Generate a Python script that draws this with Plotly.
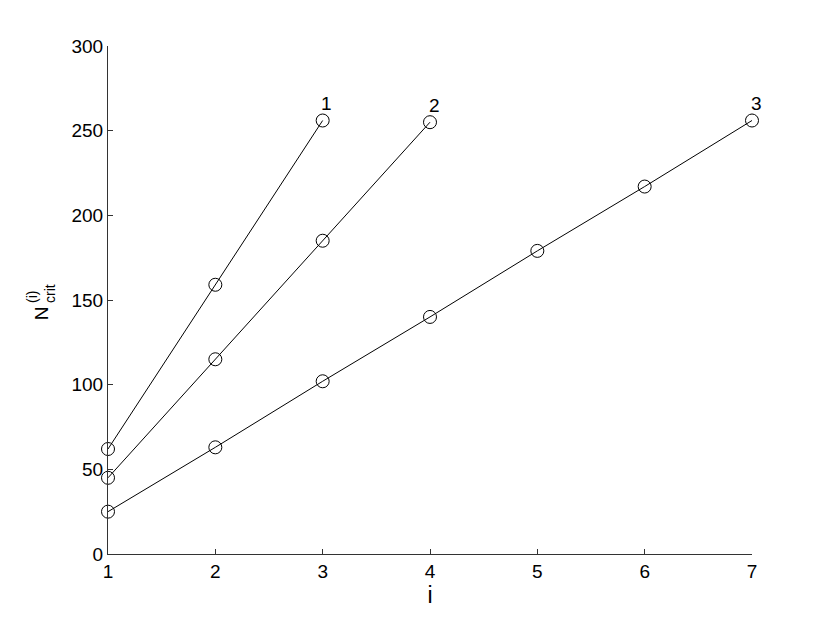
import plotly.graph_objects as go

# valeurs
x1 = [1, 2, 3]
n1 = [62, 159, 256]
x2 = [1, 2, 3, 4]
n2 = [45, 115, 185, 255]
x3 = [1, 2, 3, 4, 5, 6, 7]
n3 = [25, 63, 102, 140, 179, 217, 256]
series = [("1", x1, n1), ("2", x2, n2), ("3", x3, n3)]

xticks = [1, 2, 3, 4, 5, 6, 7]
yticks = [0, 50, 100, 150, 200, 250, 300]

police = "Liberation Sans, Arial, sans-serif"

fig = go.Figure()
for nom, xs, ys in series:
    fig.add_trace(go.Scatter(x=xs, y=ys, mode="lines+markers", name=nom,
                             line=dict(color="black", width=1),
                             marker=dict(symbol="circle-open", size=13,
                                         color="black", line=dict(width=1)),
                             cliponaxis=False, showlegend=False))
    # étiquette au-dessus du dernier point
    fig.add_annotation(x=xs[-1], y=ys[-1], text=nom, showarrow=False,
                       yshift=17, xshift=4, font=dict(size=19, color="black"))

# titre de l'axe y : N avec (i) en exposant et crit en indice
fig.add_annotation(xref="paper", yref="paper", x=0, y=0.474, xshift=-67,
                   xanchor="center", yanchor="middle",
                   text="N", textangle=-90, showarrow=False,
                   font=dict(size=19, color="black"))
fig.add_annotation(xref="paper", yref="paper", x=0, y=0.512, xshift=-58,
                   xanchor="center", yanchor="middle",
                   text="crit", textangle=-90, showarrow=False,
                   font=dict(size=14, color="black"))
fig.add_annotation(xref="paper", yref="paper", x=0, y=0.506, xshift=-76,
                   xanchor="center", yanchor="middle",
                   text="(i)", textangle=-90, showarrow=False,
                   font=dict(size=14, color="black"))

# la page ajoute 8 px de marge : on compense dans les marges
fig.update_layout(
    width=830, height=625,
    margin=dict(l=100, r=86, t=38, b=79),
    plot_bgcolor="white", paper_bgcolor="white",
    font=dict(family=police, size=19, color="black"),
    xaxis=dict(range=[1, 7], tickvals=xticks, showgrid=False, zeroline=False,
               showline=True, linecolor="#333", linewidth=1,
               ticks="inside", ticklen=5, tickcolor="#333",
               title=dict(text="i", standoff=6)),
    yaxis=dict(range=[0, 300], tickvals=yticks, showgrid=False, zeroline=False,
               showline=True, linecolor="#333", linewidth=1,
               ticks="inside", ticklen=5, tickcolor="#333"),
)

fig.write_html("out.html")
